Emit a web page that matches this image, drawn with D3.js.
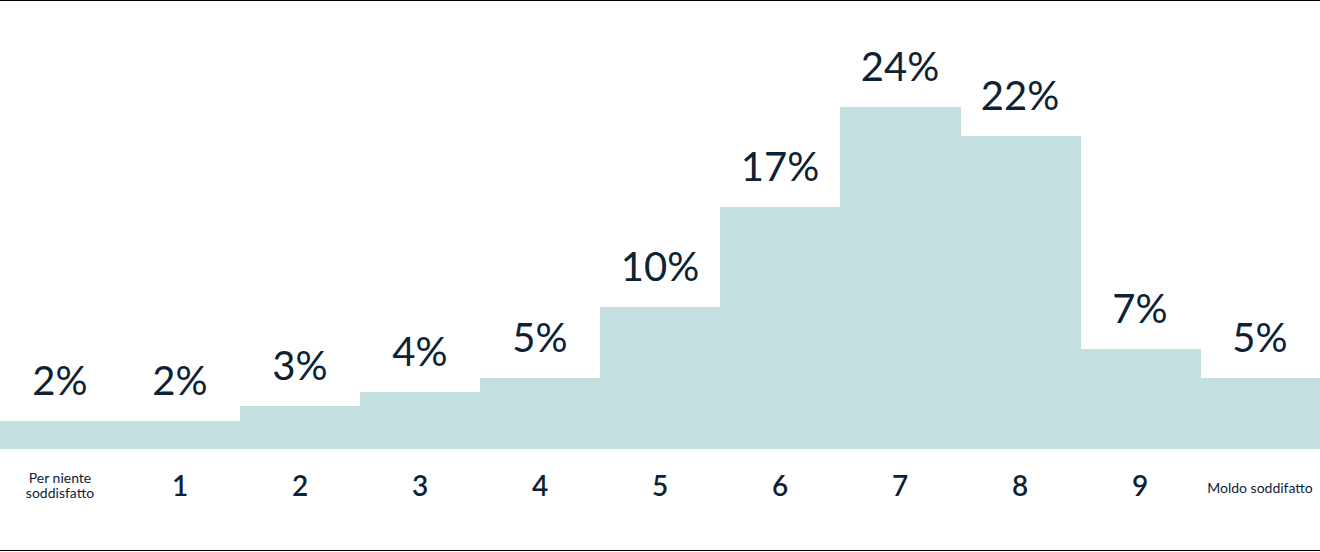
<!DOCTYPE html>
<html>
<head>
<meta charset="utf-8">
<script src="https://cdn.jsdelivr.net/npm/d3@7"></script>
<style>
  html, body { margin: 0; padding: 0; background: #fff; }
  svg { display: block; }
  .pct { font-family: Lato, "Noto Sans", sans-serif; font-size: 40px; font-weight: 400; fill: #0e2236; }
  .axis text { font-family: Lato, "Noto Sans", sans-serif; fill: #0e2236; }
</style>
</head>
<body>
<svg width="1320" height="552"></svg>
<script>
// chart data
var categories = ["0", "1", "2", "3", "4", "5", "6", "7", "8", "9", "10"];
var tickLabels = [["Per niente", "soddisfatto"], ["1"], ["2"], ["3"], ["4"], ["5"], ["6"], ["7"], ["8"], ["9"], ["Moldo soddifatto"]];
var values = [2, 2, 3, 4, 5, 10, 17, 24, 22, 7, 5];

var svg = d3.select("svg"),
    width = +svg.attr("width"),
    height = +svg.attr("height"),
    baseline = 449;

// band scale with no gaps, bars touch each other
var x = d3.scaleBand().domain(categories).range([0, width]).padding(0);
var y = d3.scaleLinear().domain([0, d3.max(values)]).range([baseline, 107]);

var data = categories.map(function(c, i) { return {cat: c, value: values[i], label: tickLabels[i]}; });

// frame lines top and bottom
svg.append("line").attr("x1", 0).attr("x2", width).attr("y1", 0.5).attr("y2", 0.5)
    .attr("stroke", "#000").attr("stroke-width", 1);
svg.append("line").attr("x1", 0).attr("x2", width).attr("y1", 550.5).attr("y2", 550.5)
    .attr("stroke", "#000").attr("stroke-width", 1);

// bars
svg.selectAll(".bar")
  .data(data)
  .enter().append("rect")
    .attr("class", "bar")
    .attr("x", function(d) { return x(d.cat); })
    .attr("width", x.bandwidth() + 0.5)
    .attr("y", function(d) { return y(d.value); })
    .attr("height", function(d) { return baseline - y(d.value); })
    .attr("fill", "#c4dfe0")
    .attr("shape-rendering", "crispEdges");

// value labels above the bars
svg.selectAll(".pct")
  .data(data)
  .enter().append("text")
    .attr("class", "pct")
    .attr("x", function(d) { return x(d.cat) + x.bandwidth() / 2; })
    .attr("y", function(d) { return y(d.value) - 26; })
    .attr("text-anchor", "middle")
    .text(function(d) { return d.value + "%"; });

// x axis, no lines, labels only
var axis = svg.append("g")
    .attr("class", "axis")
    .attr("transform", "translate(0," + baseline + ")")
    .call(d3.axisBottom(x).tickSize(0).tickFormat(""));
axis.select(".domain").remove();

axis.selectAll(".tick").each(function(c, i) {
  var t = d3.select(this).select("text").text(null).attr("dy", null).attr("y", null);
  var lines = tickLabels[i];
  if (lines.length === 1 && /^\d+$/.test(lines[0])) {
    t.attr("y", 47).style("font-size", "28px").style("font-weight", 600).text(lines[0]);
  } else if (lines.length === 1) {
    t.attr("y", 44).style("font-size", "14px").text(lines[0]);
  } else {
    t.style("font-size", "14px");
    lines.forEach(function(l, k) {
      t.append("tspan").attr("x", 0).attr("y", 34 + k * 15).text(l);
    });
  }
});
</script>
</body>
</html>
